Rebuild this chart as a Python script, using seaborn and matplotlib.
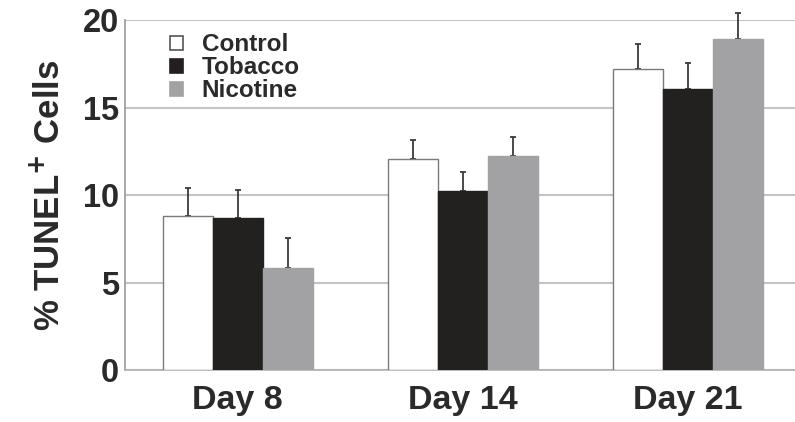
import pandas as pd
import matplotlib
matplotlib.use('Agg')
import matplotlib.pyplot as plt
import seaborn as sns

# --- Data ---
days = ['Day 8', 'Day 14', 'Day 21']
groups = ['Control', 'Tobacco', 'Nicotine']
control = [8.8, 12.05, 17.2]
tobacco = [8.7, 10.25, 16.05]
nicotine = [5.85, 12.25, 18.9]
control_err = [1.6, 1.1, 1.45]
tobacco_err = [1.6, 1.1, 1.5]
nicotine_err = [1.7, 1.1, 1.5]

colors = ['#ffffff', '#231f20', '#a2a2a5']

sns.set_theme(style="white")
plt.rcParams['font.family'] = ['Liberation Sans', 'DejaVu Sans']
plt.rcParams['font.weight'] = 'bold'

rows = []
for g, vals, errs in zip(groups, [control, tobacco, nicotine],
                         [control_err, tobacco_err, nicotine_err]):
    for d, v, e in zip(days, vals, errs):
        rows.append({'day': d, 'group': g, 'value': v, 'err': e})
df = pd.DataFrame(rows)

fig = plt.figure(figsize=(7.95, 4.22), dpi=100)
ax = fig.add_axes([0.157, 0.123, 0.843, 0.829])

sns.barplot(data=df, x='day', y='value', hue='group', order=days,
            hue_order=groups, palette=colors, width=0.667, gap=0,
            errorbar=None, ax=ax, zorder=3, legend=False)

# outlines: white bars get a gray edge
for cont, g in zip(ax.containers, groups):
    for p in cont:
        p.set_edgecolor('#7a7a7a' if g == 'Control' else p.get_facecolor())
        p.set_linewidth(1.0)

# one-sided error bars placed on the drawn bars
for cont, g in zip(ax.containers, groups):
    sub = df[df['group'] == g].set_index('day').loc[days]
    xs = [p.get_x() + p.get_width() / 2 for p in cont]
    ax.errorbar(xs, sub['value'], yerr=[[0] * len(xs), sub['err']],
                fmt='none', ecolor='#3a3a3a', elinewidth=1.3, capsize=2.5,
                capthick=1.3, zorder=2, clip_on=False)

ax.set_ylim(0, 20)
ax.set_xlim(-0.502, 2.476)
ax.set_yticks([0, 5, 10, 15, 20])
ax.yaxis.grid(True, color='#c4c4c4', linewidth=1.5, zorder=0)
ax.set_axisbelow(True)
for s in ['top', 'right']:
    ax.spines[s].set_visible(False)
ax.spines['left'].set_color('#9a9a9a')
ax.spines['bottom'].set_color('#b0b0b0')
ax.spines['left'].set_linewidth(1.2)
ax.spines['bottom'].set_linewidth(1.2)
ax.tick_params(axis='y', length=0, labelsize=23.5, colors='#2a2a2a', pad=4)
ax.tick_params(axis='x', length=0, labelsize=24.5, colors='#2a2a2a', pad=11)
for lab in ax.get_xticklabels() + ax.get_yticklabels():
    lab.set_fontweight('bold')
ax.set_xlabel('')
ax.set_ylabel('% TUNEL$^\\mathbf{+}$ Cells', fontsize=25, fontweight='bold',
              color='#2a2a2a', labelpad=12)

handles = [plt.Rectangle((0, 0), 1, 1, facecolor=c,
                         edgecolor='#555555' if c == '#ffffff' else c, linewidth=1.2)
           for c in colors]
leg = ax.legend(handles, groups, loc='upper left', bbox_to_anchor=(0.053, 0.99),
                frameon=False, fontsize=17.5, handlelength=0.55, handleheight=0.55,
                handletextpad=0.75, labelspacing=0.0, borderaxespad=0)
for t in leg.get_texts():
    t.set_fontweight('bold')
    t.set_color('#2a2a2a')

fig.savefig('out.png', dpi=100)
